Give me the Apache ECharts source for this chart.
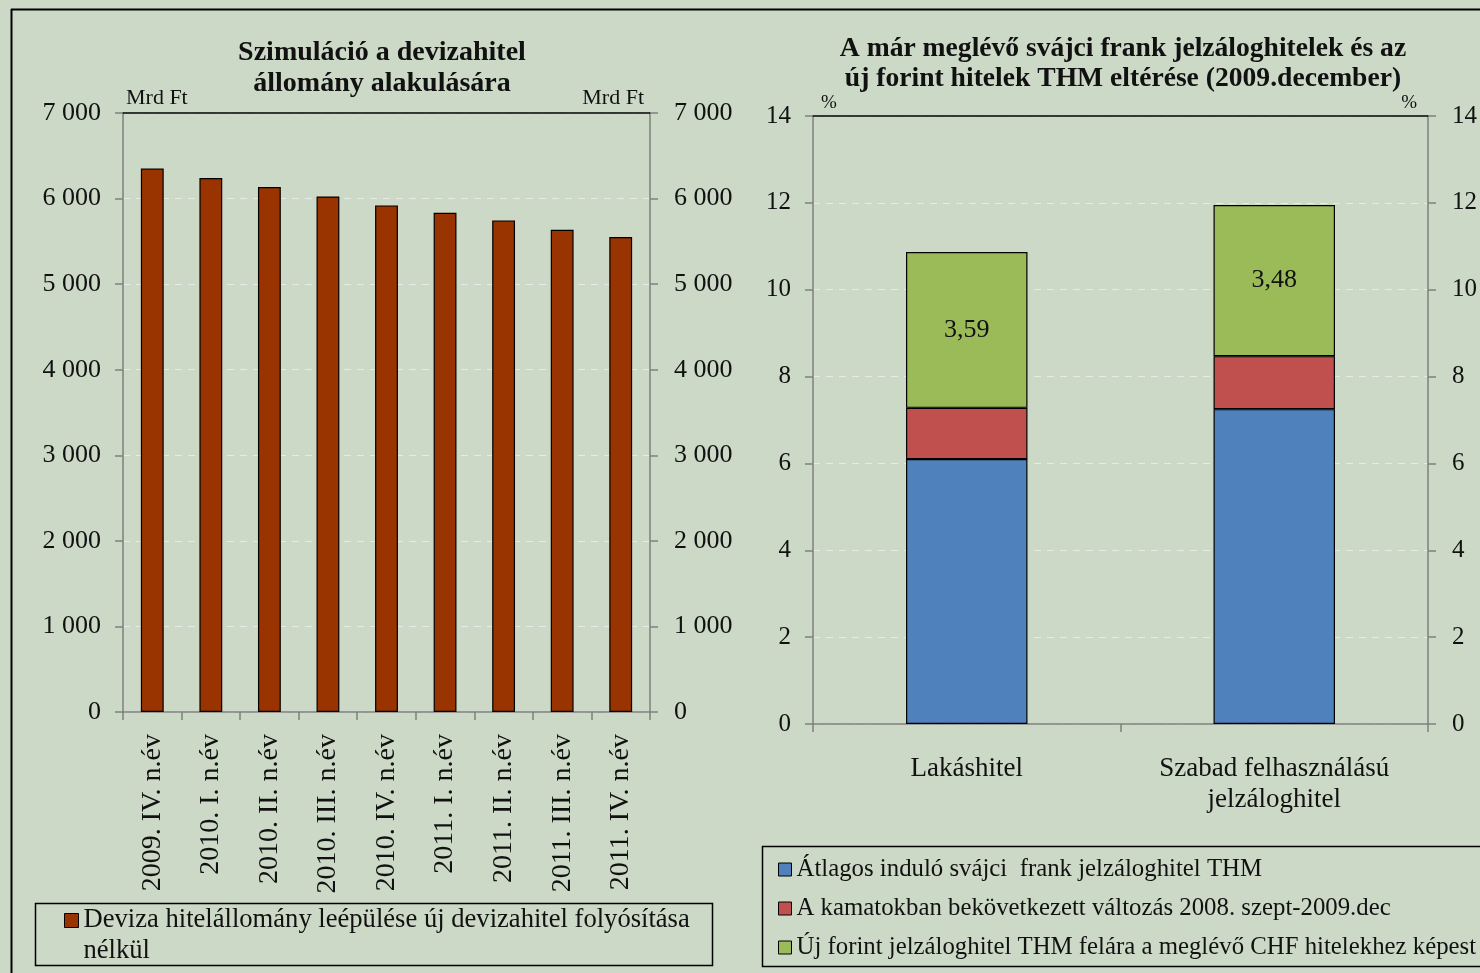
<!DOCTYPE html>
<html>
<head>
<meta charset="utf-8">
<script src="https://cdn.jsdelivr.net/npm/echarts@6/dist/echarts.min.js"></script>
<style>
  html, body { margin: 0; padding: 0; background: #ccd9c7; }
  #chart { width: 1480px; height: 973px; }
</style>
</head>
<body>
<div id="chart"></div>
<script>
// Left panel: foreign-currency loan stock simulation (Mrd Ft)
const quarters = [
  '2009. IV. n.év', '2010. I. n.év', '2010. II. n.év', '2010. III. n.év', '2010. IV. n.év',
  '2011. I. n.év', '2011. II. n.év', '2011. III. n.év', '2011. IV. n.év'
];
const devizaStock = [6350, 6240, 6135, 6025, 5920, 5835, 5745, 5635, 5550];
const devizaName = 'Deviza hitelállomány leépülése új devizahitel folyósítása nélkül';

// Right panel: APR gap between existing CHF and new HUF mortgages (%)
const loanTypes = ['Lakáshitel', 'Szabad felhasználású\njelzáloghitel'];
const chfThm = [6.10, 7.25];
const rateChange = [1.18, 1.22];
const hufPremium = [3.59, 3.48];
const rightNames = [
  'Átlagos induló svájci  frank jelzáloghitel THM',
  'A kamatokban bekövetkezett változás 2008. szept-2009.dec',
  'Új forint jelzáloghitel THM felára a meglévő CHF hitelekhez képest'
];

const FONT = '"Liberation Serif", "Times New Roman", serif';
const AXIS_GRAY = '#7f7f7f';
const GRID_LINE = { show: true, lineStyle: { color: 'rgba(236,236,236,0.85)', type: [7, 6], width: 1.2 } };

const fmtThousands = v => String(v).replace(/\B(?=(\d{3})+(?!\d))/g, ' ');

function valueAxis(gridIndex, position, min, max, interval, name, nameAlign, fmt, split, labelSize) {
  const pct = name === '%';
  return {
    type: 'value', gridIndex, position, min, max, interval,
    name, nameLocation: 'end', nameGap: pct ? 3 : 4,
    nameTextStyle: {
      fontFamily: FONT, color: '#111', fontSize: pct ? 19 : 22,
      align: nameAlign, verticalAlign: 'bottom',
      padding: nameAlign === 'left' ? [0, 0, 0, pct ? 8 : 3] : [0, pct ? 11 : 6, 0, 0]
    },
    axisLine: { show: true, onZero: false, lineStyle: { color: AXIS_GRAY, width: 1.5 } },
    axisTick: { show: true, inside: false, length: 8, lineStyle: { color: AXIS_GRAY, width: 1.5 } },
    axisLabel: { fontFamily: FONT, fontSize: labelSize, color: '#111', margin: position === 'left' ? 22 : 24, formatter: fmt },
    splitLine: split ? GRID_LINE : { show: false }
  };
}

function frameTop(gridIndex, data) {
  return {
    type: 'category', gridIndex, data, position: 'top',
    axisLine: { show: true, onZero: false, lineStyle: { color: '#000', width: 1.5 } },
    axisTick: { show: false }, axisLabel: { show: false }, splitLine: { show: false }
  };
}

const option = {
  backgroundColor: '#ccd9c7',
  animation: false,
  textStyle: { fontFamily: FONT },
  title: [
    {
      text: 'Szimuláció a devizahitel\nállomány alakulására',
      left: 377, top: 32, textAlign: 'center',
      textStyle: { fontFamily: FONT, fontSize: 28, fontWeight: 'bold', color: '#111', lineHeight: 31 }
    },
    {
      text: 'A már meglévő svájci frank jelzáloghitelek és az\núj forint hitelek THM eltérése (2009.december)',
      left: 1118, top: 29, textAlign: 'center',
      textStyle: { fontFamily: FONT, fontSize: 27.6, fontWeight: 'bold', color: '#111', lineHeight: 30 }
    }
  ],
  grid: [
    { left: 123, right: 830, top: 113, bottom: 261 },
    { left: 813, right: 49, top: 116, bottom: 249 }
  ],
  legend: [
    {
      data: [devizaName],
      left: 64, top: 874, padding: 0, icon: 'rect',
      itemWidth: 14, itemHeight: 14,
      itemStyle: { borderColor: '#000', borderWidth: 1 },
      // blank first line keeps the first text line level with the icon
      formatter: () => ' \nDeviza hitelállomány leépülése új devizahitel folyósítása\nnélkül',
      textStyle: { fontFamily: FONT, fontSize: 26.6, color: '#111', lineHeight: 31 },
      selectedMode: false
    },
    {
      data: rightNames,
      orient: 'vertical', left: 778, top: 857, padding: 0, icon: 'rect',
      itemWidth: 13, itemHeight: 13, itemGap: 14,
      itemStyle: { borderColor: '#000', borderWidth: 1 },
      textStyle: { fontFamily: FONT, fontSize: 24.8, color: '#111', lineHeight: 25 },
      selectedMode: false
    }
  ],
  xAxis: [
    {
      type: 'category', gridIndex: 0, data: quarters, position: 'bottom',
      axisLine: { onZero: false, lineStyle: { color: AXIS_GRAY, width: 1.5 } },
      axisTick: { show: true, alignWithLabel: false, interval: 0, length: 8, lineStyle: { color: AXIS_GRAY, width: 1.5 } },
      axisLabel: { rotate: 90, interval: 0, margin: 22, fontFamily: FONT, fontSize: 28, color: '#111' }
    },
    frameTop(0, quarters),
    {
      type: 'category', gridIndex: 1, data: loanTypes, position: 'bottom',
      axisLine: { onZero: false, lineStyle: { color: AXIS_GRAY, width: 1.5 } },
      axisTick: { show: true, alignWithLabel: false, interval: 0, length: 8, lineStyle: { color: AXIS_GRAY, width: 1.5 } },
      axisLabel: { interval: 0, margin: 29, fontFamily: FONT, fontSize: 27, color: '#111', lineHeight: 31 }
    },
    frameTop(1, loanTypes)
  ],
  yAxis: [
    valueAxis(0, 'left', 0, 7000, 1000, 'Mrd Ft', 'left', fmtThousands, true, 26),
    valueAxis(0, 'right', 0, 7000, 1000, 'Mrd Ft', 'right', fmtThousands, false, 26),
    valueAxis(1, 'left', 0, 14, 2, '%', 'left', v => String(v), true, 25),
    valueAxis(1, 'right', 0, 14, 2, '%', 'right', v => String(v), false, 25)
  ],
  series: [
    {
      name: devizaName, type: 'bar', xAxisIndex: 0, yAxisIndex: 0,
      data: devizaStock, barWidth: '39%',
      itemStyle: { color: '#993300', borderColor: '#000', borderWidth: 1.2 }
    },
    {
      name: rightNames[0], type: 'bar', stack: 'thm', xAxisIndex: 2, yAxisIndex: 2,
      data: chfThm, barWidth: '39.5%',
      itemStyle: { color: '#4f81bd', borderColor: '#000', borderWidth: 1.2 }
    },
    {
      name: rightNames[1], type: 'bar', stack: 'thm', xAxisIndex: 2, yAxisIndex: 2,
      data: rateChange,
      itemStyle: { color: '#c0504d', borderColor: '#000', borderWidth: 1.2 }
    },
    {
      name: rightNames[2], type: 'bar', stack: 'thm', xAxisIndex: 2, yAxisIndex: 2,
      data: hufPremium,
      itemStyle: { color: '#9bbb59', borderColor: '#000', borderWidth: 1.2 },
      label: {
        show: true, position: 'inside', fontFamily: FONT, fontSize: 26, color: '#111',
        formatter: p => p.value.toFixed(2).replace('.', ',')
      }
    }
  ],
  graphic: [
    // outer frame
    { type: 'line', shape: { x1: 11, y1: 9.5, x2: 1480, y2: 9.5 }, style: { stroke: '#000', lineWidth: 2 }, silent: true },
    { type: 'line', shape: { x1: 11.5, y1: 9, x2: 11.5, y2: 973 }, style: { stroke: '#000', lineWidth: 2 }, silent: true },
    // legend boxes
    { type: 'rect', shape: { x: 35.5, y: 903.5, width: 677, height: 62 }, style: { fill: 'none', stroke: '#000', lineWidth: 1.5 }, silent: true, z: -1 },
    { type: 'rect', shape: { x: 762.5, y: 846.5, width: 740, height: 120 }, style: { fill: 'none', stroke: '#000', lineWidth: 1.5 }, silent: true, z: -1 }
  ]
};

const chart = echarts.init(document.getElementById('chart'), null, { renderer: 'canvas' });
chart.setOption(option);
</script>
</body>
</html>
